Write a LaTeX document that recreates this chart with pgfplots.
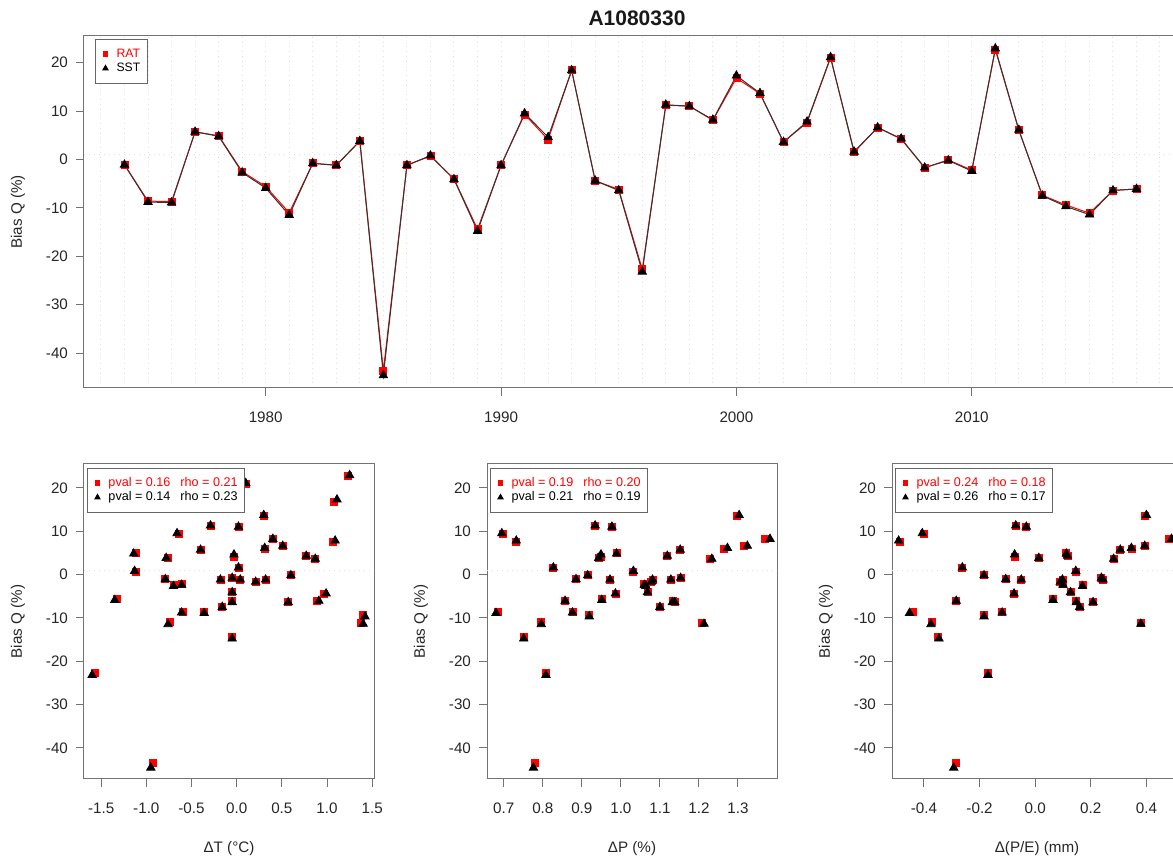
\documentclass[border=0pt]{standalone}
\usepackage{pgfplots}
\pgfplotsset{compat=1.18}
\usepackage{pgfplotstable}
\usepackage{fontspec}
\setmainfont{Liberation Sans}
\newcommand\tickfont{\fontsize{7.6}{9}\selectfont}
\newcommand\legfont{\fontsize{6.1}{7}\selectfont}
\newcommand\slegfont{\fontsize{6.3}{7.3}\selectfont}

\pgfplotstableread{
yr rat sst tR tS pR pS eR eS
1974 -1.1 -1.1 -0.79 -0.79 0.885 0.885 -0.106 -0.106
1975 -8.6 -8.8 -0.60 -0.61 0.876 0.876 -0.119 -0.119
1976 -8.7 -8.9 -0.36 -0.36 0.686 0.680 -0.440 -0.452
1977 5.7 5.7 -0.40 -0.40 1.152 1.152 0.306 0.306
1978 4.9 4.8 -1.11 -1.14 0.989 0.989 0.112 0.112
1979 -2.5 -2.7 -0.70 -0.70 1.064 1.064 0.170 0.170
1980 -5.6 -5.9 -1.33 -1.35 0.951 0.951 0.064 0.064
1981 -11.0 -11.5 -0.74 -0.76 0.796 0.796 -0.370 -0.375
1982 -0.8 -0.8 -0.05 -0.05 1.153 1.153 0.238 0.238
1983 -1.2 -1.2 -0.18 -0.18 0.972 0.972 -0.050 -0.050
1984 3.8 3.8 -0.76 -0.78 0.943 0.943 0.013 0.013
1985 -43.6 -44.6 -0.93 -0.95 0.779 0.776 -0.286 -0.293
1986 -1.2 -1.2 0.04 0.04 1.128 1.128 0.098 0.098
1987 0.7 0.8 -1.11 -1.13 1.032 1.032 0.146 0.146
1988 -4.0 -4.1 -0.05 -0.05 1.068 1.068 0.127 0.127
1989 -14.4 -14.8 -0.05 -0.05 0.751 0.751 -0.350 -0.346
1990 -1.2 -1.2 0.32 0.32 1.081 1.081 0.244 0.244
1991 9.3 9.5 -0.64 -0.66 0.698 0.695 -0.400 -0.406
1992 4.1 4.6 -0.03 -0.03 0.949 0.949 -0.074 -0.074
1993 18.4 18.4 -0.50 -0.50 1.000 1.000 -0.350 -0.350
1994 -4.4 -4.4 0.97 0.99 0.986 0.986 -0.076 -0.076
1995 -6.2 -6.4 -0.05 -0.05 1.132 1.132 0.148 0.148
1996 -22.7 -23.2 -1.57 -1.60 0.808 0.808 -0.170 -0.170
1997 11.2 11.3 -0.29 -0.29 0.934 0.934 -0.070 -0.070
1998 11.0 11.0 0.02 0.02 0.977 0.977 -0.032 -0.032
1999 8.1 8.2 0.40 0.40 1.369 1.382 0.480 0.490
2000 16.8 17.3 1.08 1.11 0.750 0.750 -0.250 -0.250
2001 13.6 13.7 0.30 0.30 1.298 1.303 0.395 0.400
2002 3.6 3.6 0.87 0.87 1.228 1.233 0.282 0.282
2003 7.6 7.8 1.07 1.09 0.732 0.732 -0.485 -0.491
2004 21.0 21.1 0.10 0.10 0.950 0.950 0.032 0.032
2005 1.5 1.6 0.02 0.02 0.827 0.827 -0.262 -0.262
2006 6.6 6.6 0.51 0.51 1.316 1.324 0.394 0.394
2007 4.2 4.3 0.77 0.77 1.119 1.119 0.116 0.116
2008 -1.7 -1.7 0.21 0.21 1.078 1.078 0.090 0.090
2009 -0.1 -0.2 0.60 0.60 0.915 0.915 -0.184 -0.184
2010 -2.2 -2.4 -0.61 -0.61 1.060 1.060 0.100 0.100
2011 22.7 22.9 1.23 1.25 0.850 0.850 -0.150 -0.150
2012 6.0 6.1 0.31 0.31 1.265 1.273 0.346 0.346
2013 -7.4 -7.5 -0.16 -0.16 1.100 1.100 0.160 0.160
2014 -9.4 -9.7 1.40 1.42 0.919 0.919 -0.184 -0.184
2015 -11.1 -11.4 1.38 1.40 1.208 1.213 0.380 0.380
2016 -6.4 -6.4 0.57 0.57 1.138 1.138 0.208 0.208
2017 -6.1 -6.1 0.89 0.91 0.857 0.857 -0.284 -0.284
}\data

\pgfplotsset{
  rstyle/.style={
    scale only axis, anchor=south west,
    tick align=outside, tick pos=left,
    major tick length=4pt,
    axis line style={black!55, line width=0.5pt},
    every tick/.style={black!55, line width=0.5pt},
    tick label style={font=\tickfont, text=black!85},
    /pgf/number format/assume math mode=true,
    /pgf/number format/1000 sep={},
    ymin=-47.2, ymax=25.5,
    ytick={-40,-30,-20,-10,0,10,20},
    yticklabel style={xshift=-0.5pt},
    xticklabel style={yshift=-4.5pt},
    ylabel style={at={(axis description cs:0,0.5)}, anchor=center, yshift=33pt, font=\tickfont, text=black!85},
    xlabel style={at={(axis description cs:0.5,0)}, anchor=center, yshift=-35pt, font=\tickfont, text=black!85},
    ylabel={Bias Q (\%)},
    legend cell align=left,
    legend style={at={(axis description cs:0,1)}, anchor=north west,
      draw=black!60, line width=0.5pt, fill=white, font=\legfont,
      inner xsep=3.5pt, inner ysep=4.5pt, row sep=1.6pt,
      nodes={inner sep=0pt, text height=4.4pt, text depth=1.2pt},
      /tikz/every odd column/.append style={column sep=4pt}},
  },
  ratm/.style={only marks, mark=square*, mark size=1.75pt, red, mark options={draw=red, fill=red},
     legend image code/.code={\path[draw=none, fill=none] (-1.5pt,-1pt) rectangle (1.5pt,1pt);
        \draw[##1, mark size=1.05pt] plot coordinates {(0pt,0pt)};}},
  sstm/.style={only marks, mark=triangle*, mark size=2.4pt, black, mark options={draw=black, fill=black},
     legend image code/.code={\path[draw=none, fill=none] (-1.5pt,-1pt) rectangle (1.5pt,1pt);
        \draw[##1, mark size=1.5pt] plot coordinates {(0pt,0pt)};}},
  scat/.style={rstyle, width=145pt, height=157.5pt,
    xticklabel style={/pgf/number format/fixed, /pgf/number format/fixed zerofill, /pgf/number format/precision=1},
    legend style={xshift=1.5pt, yshift=-2pt, font=\slegfont},
  },
}

\begin{document}
\begin{tikzpicture}
% ---------- top time series ----------
\begin{axis}[rstyle, at={(42pt,234pt)}, width=546.5pt, height=176pt,
  xmin=1972.28, xmax=2018.72,
  xtick={1980,1990,2000,2010},
  minor xtick={1973,...,2018},
  minor tick length=0pt,
  xminorgrids=true, xmajorgrids=true,
  grid style={gray!25, dotted, line width=0.5pt},
  legend style={xshift=5.5pt, yshift=-1.5pt},
]
\addplot[gray!25, dotted, line width=0.5pt, forget plot] coordinates {(1972.28,1) (2018.72,1)};
\addplot[red, line width=0.5pt, forget plot] table[x=yr, y=rat] {\data};
\addplot[ratm] table[x=yr, y=rat] {\data};
\addlegendentry{\textcolor{red}{RAT}}
\addplot[black!80, line width=0.5pt, forget plot] table[x=yr, y=sst] {\data};
\addplot[sstm] table[x=yr, y=sst] {\data};
\addlegendentry{SST}
\end{axis}
\node[font=\bfseries\fontsize{10.5}{12}\selectfont, text=black!90] at (318.5pt,419pt) {A1080330};

% ---------- scatter dT ----------
\begin{axis}[scat, at={(42pt,38.5pt)}, xmin=-1.69, xmax=1.52,
  xtick={-1.5,-1.0,-0.5,0,0.5,1.0,1.5}, xlabel={ΔT (°C)}]
\addplot[gray!25, dotted, line width=0.5pt, forget plot] coordinates {(-1.69,1) (1.52,1)};
\addplot[ratm] table[x=tR, y=rat] {\data};
\addlegendentry{\textcolor{red}{pval = 0.16\hspace{5pt}rho = 0.21}}
\addplot[sstm] table[x=tS, y=sst] {\data};
\addlegendentry{pval = 0.14\hspace{5pt}rho = 0.23}
\end{axis}

% ---------- scatter dP ----------
\begin{axis}[scat, at={(243.5pt,38.5pt)}, xmin=0.657, xmax=1.40,
  xtick={0.7,0.8,0.9,1.0,1.1,1.2,1.3}, xlabel={ΔP (\%)}]
\addplot[gray!25, dotted, line width=0.5pt, forget plot] coordinates {(0.657,1) (1.40,1)};
\addplot[ratm] table[x=pR, y=rat] {\data};
\addlegendentry{\textcolor{red}{pval = 0.19\hspace{5pt}rho = 0.20}}
\addplot[sstm] table[x=pS, y=sst] {\data};
\addlegendentry{pval = 0.21\hspace{5pt}rho = 0.19}
\end{axis}

% ---------- scatter d(P/E) ----------
\begin{axis}[scat, at={(446pt,38.5pt)}, xmin=-0.515, xmax=0.528,
  xtick={-0.4,-0.2,0,0.2,0.4}, xlabel={Δ(P/E) (mm)}]
\addplot[gray!25, dotted, line width=0.5pt, forget plot] coordinates {(-0.515,1) (0.528,1)};
\addplot[ratm] table[x=eR, y=rat] {\data};
\addlegendentry{\textcolor{red}{pval = 0.24\hspace{5pt}rho = 0.18}}
\addplot[sstm] table[x=eS, y=sst] {\data};
\addlegendentry{pval = 0.26\hspace{5pt}rho = 0.17}
\end{axis}

\pgfresetboundingbox
\useasboundingbox (0pt,0pt) rectangle (586.5pt,428pt);
\end{tikzpicture}
\end{document}
